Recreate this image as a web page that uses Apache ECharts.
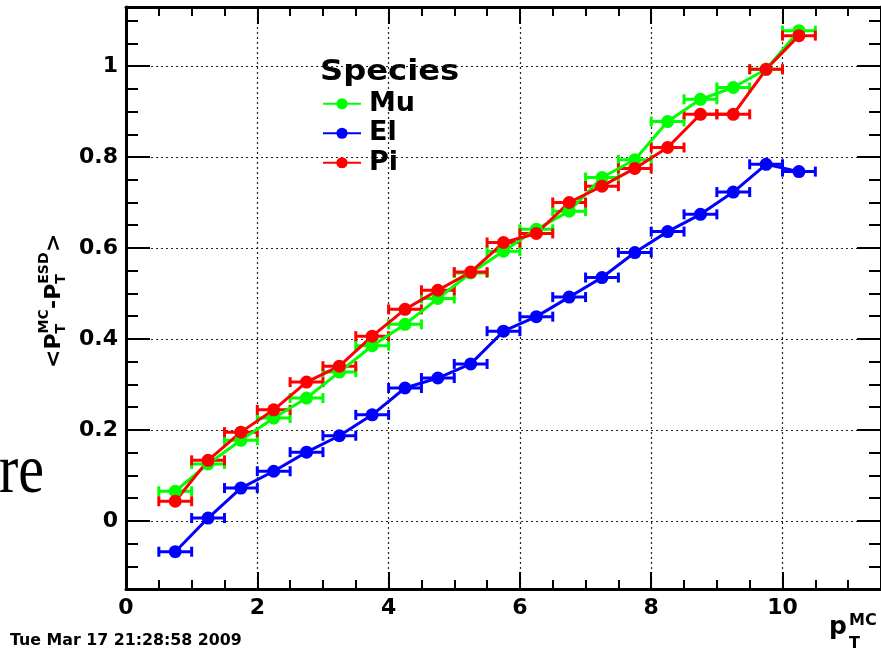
<!DOCTYPE html>
<html><head><meta charset="utf-8">
<script src="https://cdn.jsdelivr.net/npm/echarts@6/dist/echarts.min.js"></script>
<style>html,body{margin:0;padding:0;background:#fff}#c{width:881px;height:653px}</style>
</head><body><div id="c"></div>
<script>
// ---- data ----
const speciesNames = ['Mu', 'El', 'Pi'];
const ptCenters = [0.75, 1.25, 1.75, 2.25, 2.75, 3.25, 3.75, 4.25, 4.75, 5.25,
                   5.75, 6.25, 6.75, 7.25, 7.75, 8.25, 8.75, 9.25, 9.75, 10.25];
const ptHalfWidth = [0.25, 0.25, 0.25, 0.25, 0.25, 0.25, 0.25, 0.25, 0.25, 0.25,
                     0.25, 0.25, 0.25, 0.25, 0.25, 0.25, 0.25, 0.25, 0.25, 0.25];
const muValues = [0.065, 0.125, 0.177, 0.226, 0.270, 0.327, 0.385, 0.432, 0.489, 0.545,
                  0.593, 0.641, 0.681, 0.755, 0.794, 0.878, 0.927, 0.953, 0.993, 1.078];
const elValues = [-0.068, 0.006, 0.072, 0.109, 0.151, 0.187, 0.233, 0.292, 0.314, 0.345,
                  0.417, 0.449, 0.492, 0.535, 0.590, 0.636, 0.674, 0.723, 0.784, 0.768];
const piValues = [0.043, 0.133, 0.195, 0.244, 0.305, 0.340, 0.406, 0.465, 0.507, 0.547,
                  0.612, 0.632, 0.700, 0.736, 0.775, 0.821, 0.894, 0.894, 0.993, 1.067];
const xRange = [0, 11.5];
const xStep = 2;
const yRange = [-0.15, 1.13];
const yMinorStep = 0.05;
const yTickValues = [0, 0.2, 0.4, 0.6, 0.8, 1];
const legendTitle = 'Species';
const xTitle = ['p', 'T', 'MC'];
const yTitleParts = ['<P', 'T', 'MC', '-P', 'T', 'ESD', '>'];
const dateStamp = 'Tue Mar 17 21:28:58 2009';
const sideText = 're';

// ---- styles ----
const colors = { Mu: '#00ff00', El: '#0000ff', Pi: '#ff0000' };
const valuesBy = { Mu: muValues, El: elValues, Pi: piValues };
const FF = '"DejaVu Sans", sans-serif';

function makeX(pos, labels) {
  return {
    type: 'value', min: xRange[0], max: xRange[1], interval: xStep, position: pos,
    axisLine: { show: true, onZero: false, lineStyle: { color: '#000', width: 3 } },
    axisTick: { show: true, inside: true, length: 17, lineStyle: { color: '#000', width: 2 } },
    minorTick: { show: true, splitNumber: 4, length: 9, lineStyle: { color: '#000', width: 2 } },
    axisLabel: { show: labels, margin: 8, color: '#000', fontFamily: FF, fontWeight: 'bold', fontSize: 22,
                 showMaxLabel: false },
    splitLine: { show: labels, lineStyle: { color: '#222', width: 1.2, type: [2, 3] } },
    minorSplitLine: { show: false }
  };
}
// major y axis: labels, long ticks, grid lines at yTickValues
function makeYMajor(pos, labels) {
  return {
    type: 'value', min: yRange[0], max: yRange[1], interval: yMinorStep, position: pos,
    axisLine: { show: true, onZero: false, lineStyle: { color: '#000', width: 3 } },
    axisTick: { show: true, inside: true, length: 24, customValues: yTickValues,
                lineStyle: { color: '#000', width: 2 } },
    minorTick: { show: false },
    axisLabel: { show: labels, margin: 8, color: '#000', fontFamily: FF, fontWeight: 'bold', fontSize: 22,
                 customValues: yTickValues },
    splitLine: { show: labels, lineStyle: { color: '#222', width: 1.2, type: [2, 3] } },
    minorSplitLine: { show: false }
  };
}
// minor y axis: short ticks every yMinorStep
function makeYMinor(pos) {
  return {
    type: 'value', min: yRange[0], max: yRange[1], interval: yMinorStep, position: pos,
    axisLine: { show: false, onZero: false },
    axisTick: { show: true, inside: true, length: 12, lineStyle: { color: '#000', width: 2 } },
    minorTick: { show: false },
    axisLabel: { show: false },
    splitLine: { show: false }
  };
}

const series = [];
speciesNames.forEach(function (name) {
  const vals = valuesBy[name];
  const col = colors[name];
  series.push({
    type: 'custom', name: name + ' err', xAxisIndex: 0, yAxisIndex: 0,
    data: ptCenters.map(function (x, i) { return [x, vals[i], ptHalfWidth[i]]; }),
    renderItem: function (params, api) {
      const x = api.value(0), y = api.value(1), h = api.value(2);
      const a = api.coord([x - h, y]), b = api.coord([x + h, y]);
      const cap = 5;
      const st = { stroke: col, lineWidth: 3 };
      return { type: 'group', children: [
        { type: 'line', shape: { x1: a[0], y1: a[1], x2: b[0], y2: b[1] }, style: st },
        { type: 'line', shape: { x1: a[0], y1: a[1] - cap, x2: a[0], y2: a[1] + cap }, style: st },
        { type: 'line', shape: { x1: b[0], y1: b[1] - cap, x2: b[0], y2: b[1] + cap }, style: st }
      ] };
    },
    silent: true
  });
  series.push({
    type: 'line', name: name, xAxisIndex: 0, yAxisIndex: 0,
    data: ptCenters.map(function (x, i) { return [x, vals[i]]; }),
    symbol: 'circle', symbolSize: 13,
    lineStyle: { color: col, width: 3 },
    itemStyle: { color: col },
    emphasis: { disabled: true }
  });
});

const chart = echarts.init(document.getElementById('c'), null, { renderer: 'canvas' });
chart.setOption({
  backgroundColor: '#fff',
  animation: false,
  grid: { left: 126, top: 7, width: 757, height: 582, containLabel: false },
  xAxis: [makeX('bottom', true), makeX('top', false)],
  yAxis: [makeYMajor('left', true), makeYMinor('left'), makeYMajor('right', false), makeYMinor('right')],
  legend: {
    data: speciesNames, orient: 'vertical', left: 322, top: 89, padding: 0,
    itemWidth: 38, itemHeight: 14, itemGap: 0, selectedMode: false,
    textStyle: { fontFamily: FF, fontWeight: 'bold', fontSize: 27, color: '#000', lineHeight: 29.5,
                 padding: [0, 0, 0, 3] }
  },
  graphic: [
    { type: 'text', x: 320, y: 73, scaleX: 1.15, style: { text: legendTitle, font: 'bold 28px ' + FF, fill: '#000',
      verticalAlign: 'middle', align: 'left' } },
    { type: 'group', x: 54, y: 368, rotation: Math.PI / 2, children: [
      { type: 'text', x: 0, y: 0, style: { text: yTitleParts[0], font: 'bold 22px ' + FF, fill: '#000', verticalAlign: 'middle' } },
      { type: 'text', x: 34.6, y: 7, style: { text: yTitleParts[1], font: 'bold 14px ' + FF, fill: '#000', verticalAlign: 'middle' } },
      { type: 'text', x: 34.6, y: -10, style: { text: yTitleParts[2], font: 'bold 14px ' + FF, fill: '#000', verticalAlign: 'middle' } },
      { type: 'text', x: 59, y: 0, style: { text: yTitleParts[3], font: 'bold 22px ' + FF, fill: '#000', verticalAlign: 'middle' } },
      { type: 'text', x: 84.3, y: 7, style: { text: yTitleParts[4], font: 'bold 14px ' + FF, fill: '#000', verticalAlign: 'middle' } },
      { type: 'text', x: 84.3, y: -10, style: { text: yTitleParts[5], font: 'bold 14px ' + FF, fill: '#000', verticalAlign: 'middle' } },
      { type: 'text', x: 116, y: 0, style: { text: yTitleParts[6], font: 'bold 22px ' + FF, fill: '#000', verticalAlign: 'middle' } }
    ] },
    { type: 'text', x: 829, y: 627, style: { text: xTitle[0], font: 'bold 25px ' + FF, fill: '#000', verticalAlign: 'middle' } },
    { type: 'text', x: 849, y: 644, style: { text: xTitle[1], font: 'bold 16px ' + FF, fill: '#000', verticalAlign: 'middle' } },
    { type: 'text', x: 849, y: 621, style: { text: xTitle[2], font: 'bold 16px ' + FF, fill: '#000', verticalAlign: 'middle' } },
    { type: 'text', x: 10, y: 641, style: { text: dateStamp, font: 'bold 15.8px ' + FF, fill: '#000', verticalAlign: 'middle' } },
    { type: 'text', x: -1, y: 474, scaleY: 1.2, style: { text: sideText, font: '58px "Liberation Serif", "Times New Roman", serif', fill: '#000', verticalAlign: 'middle' } }
  ],
  series: series
});
</script>
</body></html>
